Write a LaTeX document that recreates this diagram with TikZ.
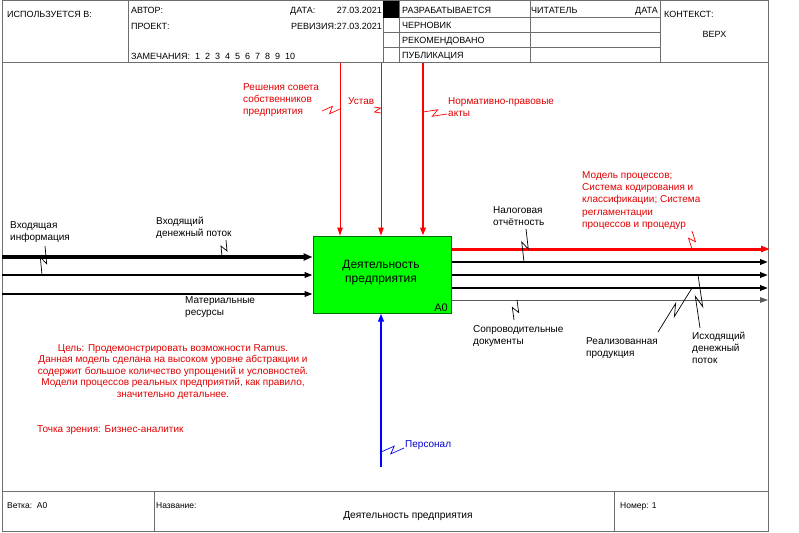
\documentclass[tikz,border=0pt]{standalone}
\usepackage{fontspec}
\setmainfont{Liberation Sans}
\usetikzlibrary{arrows.meta,calc}
\definecolor{frm}{RGB}{110,110,110}
\definecolor{txtred}{RGB}{225,0,0}
\definecolor{lnred}{RGB}{255,0,0}
\definecolor{boxgreen}{RGB}{0,255,0}
\definecolor{boxedge}{RGB}{0,110,0}
\definecolor{lnblue}{RGB}{0,0,255}
\definecolor{txtblue}{RGB}{0,0,210}
\definecolor{thin}{RGB}{90,90,90}
\newcommand{\fsz}[2]{\fontsize{#1}{#2}\selectfont}
\begin{document}
\begin{tikzpicture}[x=1pt,y=-1pt,
  frame/.style={draw=frm,line width=1pt},
  hdr/.style={font=\fsz{9}{11},inner sep=0pt,anchor=base west},
  hdrr/.style={font=\fsz{9}{11},inner sep=0pt,anchor=base east},
  ftr/.style={font=\fsz{8.5}{10},inner sep=0pt,anchor=base west},
  lbl/.style={font=\fsz{10}{12},inner sep=0pt,anchor=base west,align=left},
  redlbl/.style={lbl,text=txtred},
  tip/.style={-{Triangle[length=8pt,width=5.5pt]}},
  inthick/.style={tip,line width=4.5pt,-{Triangle[length=9pt,width=7pt]}},
  inln/.style={tip,line width=1.8pt},
  ctl/.style={tip,draw=lnred,line width=1pt},
  ctlthick/.style={tip,draw=lnred,line width=2pt},
  outred/.style={tip,draw=lnred,line width=3pt,-{Triangle[length=9pt,width=6pt]}},
  outln/.style={tip,line width=2pt},
  outthin/.style={tip,draw=thin,line width=1pt},
  mech/.style={tip,draw=lnblue,line width=2pt},
  box/.style={draw=boxedge,fill=boxgreen,line width=1pt,minimum width=138pt,minimum height=77pt,inner sep=0pt},
  squig/.style={to path={-- ($(\tikztostart)!0.6!(\tikztotarget)!3.5pt!90:(\tikztotarget)$) -- ($(\tikztostart)!0.4!(\tikztotarget)!3.5pt!-90:(\tikztotarget)$) -- (\tikztotarget)}},
  sqk/.style={squig,draw=black,line width=0.7pt},
  sqr/.style={squig,draw=lnred,line width=0.7pt},
  sqb/.style={squig,draw=lnblue,line width=0.7pt},
]
\useasboundingbox (0,0) rectangle (799,532);
\fill[white] (0,0) rectangle (799,532);
% frame
\draw[frame] (2,1) rectangle (768,531);
\draw[frame] (2,63) -- (768,63);
\draw[frame] (2,491) -- (768,491);
\draw[frame] (128,1) -- (128,63);
\draw[frame] (383,1) -- (383,63);
\draw[frame] (399,1) -- (399,63);
\draw[frame] (530,1) -- (530,63);
\draw[frame] (660,1) -- (660,63);
\draw[frame] (383,18) -- (660,18);
\draw[frame] (383,33) -- (660,33);
\draw[frame] (383,48) -- (660,48);
\fill[black] (383,1) rectangle (399,18);
\draw[frame] (154,491) -- (154,531);
\draw[frame] (614,491) -- (614,531);
% header texts
\node[hdr] (h1) at (7,18) {ИСПОЛЬЗУЕТСЯ В:};
\node[hdr] (h2) at (131,14) {АВТОР:};
\node[hdr] (h3) at (131,29.5) {ПРОЕКТ:};
\node[hdr] (h4) at (131,60) {ЗАМЕЧАНИЯ:\ \ 1\ \ 2\ \ 3\ \ 4\ \ 5\ \ 6\ \ 7\ \ 8\ \ 9\ \ 10};
\node[hdr] (h5) at (290,14) {ДАТА:};
\node[hdrr] (h6) at (382,14) {27.03.2021};
\node[hdr] (h7) at (291,29.5) {РЕВИЗИЯ:};
\node[hdrr] (h8) at (382,29.5) {27.03.2021};
\node[hdr] (h9) at (402,14) {РАЗРАБАТЫВАЕТСЯ};
\node[hdr] (h10) at (402,28.5) {ЧЕРНОВИК};
\node[hdr] (h11) at (402,44) {РЕКОМЕНДОВАНО};
\node[hdr] (h12) at (402,59) {ПУБЛИКАЦИЯ};
\node[hdr] (h13) at (531,14) {ЧИТАТЕЛЬ};
\node[hdrr] (h14) at (658,14) {ДАТА};
\node[hdr] (h15) at (664,18) {КОНТЕКСТ:};
\node[hdr,anchor=base] (h16) at (714.5,37.5) {ВЕРХ};
% footer texts
\node[ftr] (f1) at (7,508) {Ветка:\ \ A0};
\node[ftr] (f2) at (156,508) {Название:};
\node[font=\fsz{10.2}{12},inner sep=0pt,anchor=base] (f3) at (408,518.5) {Деятельность предприятия};
\node[ftr] (f4) at (620,508) {Номер: 1};
% main box
\node[box] (A0) at (382,274.5) {};
\node[font=\fsz{12}{13.5},inner sep=0pt,anchor=base,align=center] (A0t) at (381,282) {Деятельность\\предприятия};
\node[font=\fsz{11}{13},inner sep=0pt,anchor=base east] (A0n) at (448,311) {A0};
% inputs
\coordinate (i1) at (2,257);
\coordinate (i2) at (2,275);
\coordinate (i3) at (2,294);
\draw[inthick] (i1) -- (i1 -| A0.west);
\draw[inln] (i2) -- (i2 -| A0.west);
\draw[inln] (i3) -- (i3 -| A0.west);
% controls
\coordinate (c1) at (340,63);
\coordinate (c2) at (381,63);
\coordinate (c3) at (423,63);
\draw[ctl] (c1) -- (c1 |- A0.north);
\draw[ctl] (c2) -- (c2 |- A0.north);
\draw[ctlthick] (c3) -- (c3 |- A0.north);
% outputs
\coordinate (o1) at (770,249);
\coordinate (o2) at (768,262);
\coordinate (o3) at (768,275);
\coordinate (o4) at (768,288);
\coordinate (o5) at (768,300);
\draw[outred] (A0.east |- o1) -- (o1);
\draw[outln] (A0.east |- o2) -- (o2);
\draw[outln] (A0.east |- o3) -- (o3);
\draw[outln] (A0.east |- o4) -- (o4);
\draw[outthin] (A0.east |- o5) -- (o5);
% mechanism
\coordinate (m1) at (381,467);
\draw[mech] (m1) -- (m1 |- A0.south);
% labels (base anchor = baseline of the last line)
\node[redlbl] (lc1) at (243,114) {Решения совета\\собственников\\предприятия};
\node[redlbl] (lc2) at (348,105) {Устав};
\node[redlbl] (lc3) at (448,117) {Нормативно-правовые\\акты};
\node[lbl] (li1) at (10,240) {Входящая\\информация};
\node[lbl] (li2) at (156,236) {Входящий\\денежный поток};
\node[lbl] (li3) at (185,315) {Материальные\\ресурсы};
\node[lbl] (lo2) at (493,225) {Налоговая\\отчётность};
\node[redlbl,font=\fsz{10}{12.4}] (lo1) at (582,227.6) {Модель процессов;\\Система кодирования и\\классификации; Система\\регламентации\\процессов и процедур};
\node[lbl] (lo5) at (473,344) {Сопроводительные\\документы};
\node[lbl] (lo4) at (586,356) {Реализованная\\продукция};
\node[lbl] (lo3) at (692,363) {Исходящий\\денежный\\поток};
\node[lbl,text=txtblue] (lm1) at (405,447) {Персонал};
\node[font=\fsz{10}{11.6},inner sep=0pt,anchor=base,align=center,text=txtred] (note) at (173,397.4) {Цель: Продемонстрировать возможности Ramus.\\Данная модель сделана на высоком уровне абстракции и\\содержит большое количество упрощений и условностей.\\Модели процессов реальных предприятий, как правило,\\значительно детальнее.};
\node[font=\fsz{10}{11.6},inner sep=0pt,anchor=base west,text=txtred] (view) at (37,432.5) {Точка зрения: Бизнес-аналитик};
% squiggles
\coordinate (a1) at (322,111); \coordinate (b1) at (340,109);
\coordinate (a2) at (374,107); \coordinate (b2) at (381,113);
\coordinate (a3) at (447,114); \coordinate (b3) at (423,112);
\coordinate (a4) at (45,246);  \coordinate (b4) at (42,275);
\coordinate (a5) at (226,240); \coordinate (b5) at (222,257);
\coordinate (a6) at (526,229); \coordinate (b6) at (524,262);
\coordinate (a7) at (692,231); \coordinate (b7) at (692,249);
\coordinate (a8) at (514,320); \coordinate (b8) at (517,300);
\coordinate (a9) at (658,332); \coordinate (b9) at (692,288);
\coordinate (a10) at (700,328); \coordinate (b10) at (698,275);
\coordinate (a11) at (404,448); \coordinate (b11) at (381,452);
\draw[sqr] (a1) to (b1);
\draw[sqr] (a2) to (b2);
\draw[sqr] (a3) to (b3);
\draw[sqk] (a4) to (b4);
\draw[sqk] (a5) to (b5);
\draw[sqk] (a6) to (b6);
\draw[sqr] (a7) to (b7);
\draw[sqk] (a8) to (b8);
\draw[sqk] (a9) to (b9);
\draw[sqk] (a10) to (b10);
\draw[sqb] (a11) to (b11);
\end{tikzpicture}
\end{document}
